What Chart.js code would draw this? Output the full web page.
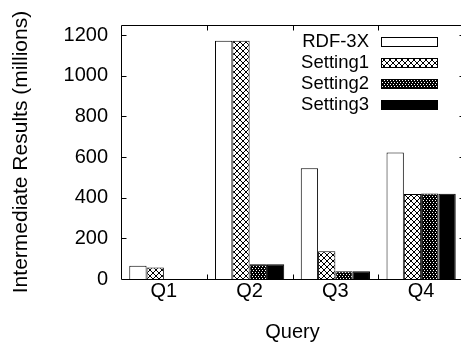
<!DOCTYPE html>
<html>
<head>
<meta charset="utf-8">
<script src="https://cdn.jsdelivr.net/npm/chart.js@4.4.1/dist/chart.umd.min.js"></script>
<style>
    html, body { margin: 0; padding: 0; background: #fff; overflow: hidden; }
    #wrap { width: 465px; height: 347px; position: relative; }
</style>
</head>
<body>
<div id="wrap"><canvas id="chart-intermediate"></canvas></div>
<script>
// Data (millions of intermediate results)
const queries = ["Q1", "Q2", "Q3", "Q4"];
const seriesNames = ["RDF-3X", "Setting1", "Setting2", "Setting3"];
const rdf3x = [65, 1172, 545, 623];
const setting1 = [57, 1172, 137, 418];
const setting2 = [0, 73, 38, 421];
const setting3 = [0, 73, 38, 419];
const yTicks = [0, 200, 400, 600, 800, 1000, 1200];

// Fill patterns like the gnuplot ones
function makePattern(w, h, draw) {
    const c = document.createElement("canvas");
    c.width = w;
    c.height = h;
    const g = c.getContext("2d");
    draw(g, w, h);
    return document.createElement("canvas").getContext("2d").createPattern(c, "repeat");
}

const crossHatch = makePattern(6, 6, (g, w, h) => {
    g.fillStyle = "#fff";
    g.fillRect(0, 0, w, h);
    g.fillStyle = "#000";
    for (let i = 0; i < 6; i++) {
        g.fillRect(i, i, 1, 1);
        g.fillRect(5 - i, i, 1, 1);
    }
});

const dotted = makePattern(6, 4, (g, w, h) => {
    g.fillStyle = "#000";
    g.fillRect(0, 0, w, h);
    g.fillStyle = "#fff";
    g.fillRect(0, 0, 1, 1);
    g.fillRect(3, 0, 1, 1);
    g.fillRect(1, 2, 1, 1);
    g.fillRect(4, 2, 1, 1);
});

const fills = ["#ffffff", crossHatch, dotted, "#000000"];
const values = [rdf3x, setting1, setting2, setting3];

const FONT = "'Liberation Sans', Arial, Helvetica, sans-serif";
Chart.defaults.font.family = FONT;
Chart.defaults.font.size = 20;
Chart.defaults.color = "#000";

// frame, inward ticks and the legend on the right
const framePlugin = {
    id: "frame",
    afterDatasetsDraw(chart) {
        const { ctx, chartArea: a, scales } = chart;
        const L = a.left + 0.5, R = a.right + 0.5, T = a.top + 0.5, B = a.bottom + 0.5;
        ctx.save();
        ctx.strokeStyle = "#000";
        ctx.lineWidth = 1;
        ctx.beginPath();
        ctx.rect(L, T, R - L, B - T);
        // y ticks both sides
        yTicks.forEach(v => {
            if (v === 0) return;
            const y = Math.round(scales.y.getPixelForValue(v)) + 0.5;
            ctx.moveTo(L, y); ctx.lineTo(L + 5, y);
            ctx.moveTo(R, y); ctx.lineTo(R - 5, y);
        });
        // x ticks between categories
        for (let i = 0; i < queries.length - 1; i++) {
            const x = Math.round((scales.x.getPixelForValue(i) + scales.x.getPixelForValue(i + 1)) / 2) + 0.5;
            ctx.moveTo(x, B); ctx.lineTo(x, B - 5);
            ctx.moveTo(x, T); ctx.lineTo(x, T + 5);
        }
        ctx.stroke();
        ctx.restore();
    },
    afterDraw(chart) {
        const { ctx } = chart;
        ctx.save();
        ctx.font = "18.5px " + FONT;
        ctx.textAlign = "right";
        ctx.textBaseline = "middle";
        chart.data.datasets.forEach((ds, i) => {
            const y = 42 + i * 20.9;
            ctx.fillStyle = "#000";
            ctx.fillText(ds.label, 369, y);
            ctx.fillStyle = ds.backgroundColor;
            ctx.fillRect(381, Math.round(y - 5), 57, 10);
            ctx.strokeStyle = "#000";
            ctx.lineWidth = 1;
            ctx.strokeRect(381.5, Math.round(y - 5) + 0.5, 56, 9);
        });
        ctx.restore();
    }
};

const ctxChart = document.getElementById("chart-intermediate");

const dataChart = {
    labels: queries,
    datasets: seriesNames.map((name, i) => ({
        label: name,
        data: values[i],
        backgroundColor: fills[i],
        borderColor: "#000",
        borderWidth: 1,
        borderSkipped: "bottom",
        barPercentage: 1,
        categoryPercentage: 0.807,
    })),
};

const configChart = {
    type: "bar",
    data: dataChart,
    options: {
        responsive: true,
        maintainAspectRatio: false,
        animation: false,
        layout: { padding: { top: 24, right: 1, left: 0, bottom: 0 } },
        plugins: {
            legend: { display: false },
            tooltip: { enabled: false },
        },
        scales: {
            x: {
                grid: { display: false, drawTicks: false },
                border: { display: false },
                ticks: { padding: 0 },
                title: { display: true, text: "Query", padding: { bottom: 3 } },
                afterFit(scale) { scale.height = 68; },
            },
            y: {
                min: 0,
                max: 1250,
                grid: { display: false, drawTicks: false },
                border: { display: false },
                ticks: { padding: 13, includeBounds: false, callback: v => String(v) },
                afterBuildTicks(scale) { scale.ticks = yTicks.map(v => ({ value: v })); },
                title: { display: true, text: "Intermediate Results (millions)", font: { size: 21 }, padding: { top: 9 } },
                afterFit(scale) { scale.width = 121; },
            },
        },
    },
    plugins: [framePlugin],
};

new Chart(ctxChart, configChart);
</script>
</body>
</html>
